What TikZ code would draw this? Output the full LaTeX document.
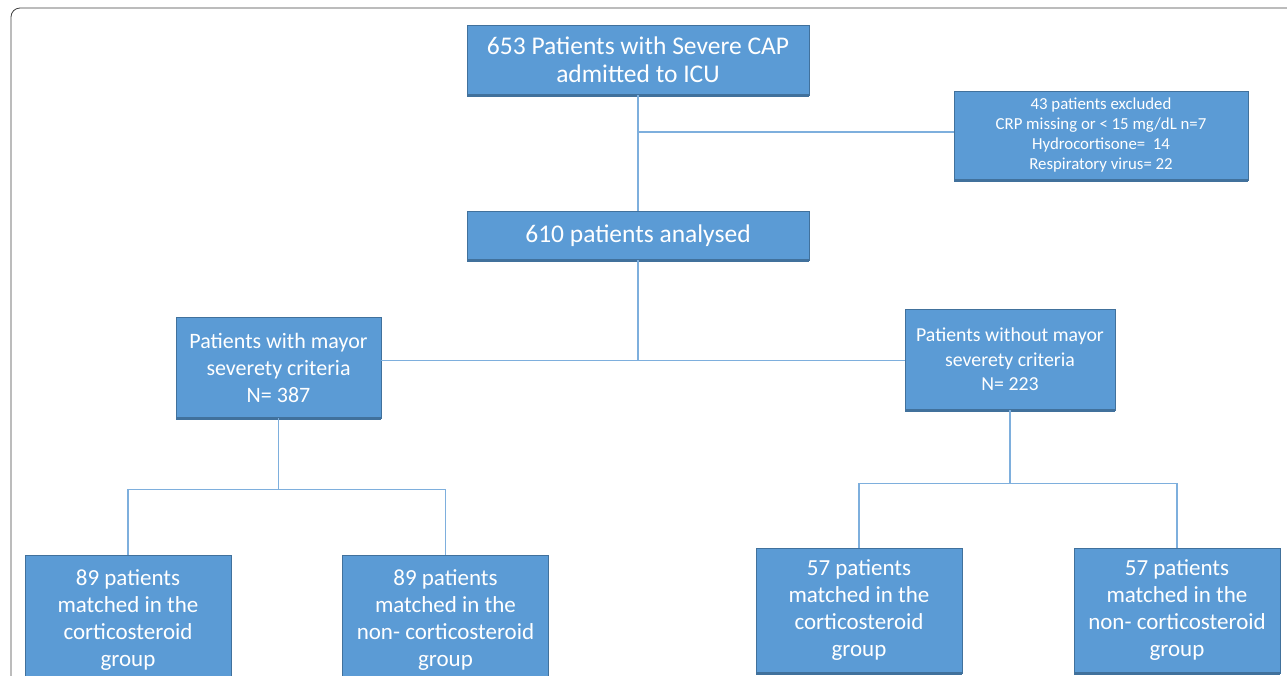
\documentclass[tikz,border=0pt]{standalone}
\usepackage{fontspec}
\setmainfont{Carlito}
\usetikzlibrary{positioning,calc}
\definecolor{boxblue}{HTML}{5B9BD5}
\definecolor{boxedge}{HTML}{41719C}
\definecolor{linkblue}{HTML}{7EAFDD}
\tikzset{
  flowbox/.style={draw=boxedge, line width=0.8pt, fill=boxblue, text=white, align=center, inner sep=2pt},
  link/.style={draw=linkblue, line width=1.3pt},
  strip/.style={draw=boxedge, line width=2.5pt}
}
\begin{document}
\begin{tikzpicture}[x=1pt,y=-1pt]
\useasboundingbox (0,0) rectangle (1287,675);
\clip (0,0) rectangle (1287,675);
% outer frame
\draw[black!75, line width=0.8pt, rounded corners=9pt] (11,8) rectangle (1310,700);
% main boxes
\node[flowbox, minimum width=342pt, minimum height=70pt, font=\fontsize{25.5}{28}\selectfont] (admit) at (638,60) {653 Patients with Severe CAP\\admitted to ICU};
\node[flowbox, minimum width=294pt, minimum height=89pt, font=\fontsize{16.8}{20}\selectfont] (excl) at (1101,135.5) {43 patients excluded\\CRP missing or < 15 mg/dL n=7\\Hydrocortisone=\ \ 14\\Respiratory virus= 22};
\node[flowbox, minimum width=342pt, minimum height=49pt, font=\fontsize{25.5}{28}\selectfont] (anal) at (638,235.5) {610 patients analysed};
% severity groups
\node[flowbox, minimum width=205pt, minimum height=101pt, font=\fontsize{22}{27}\selectfont] (major) at (278.5,367.5) {Patients with\ mayor\\severety\ criteria\\N= 387};
\node[flowbox, minimum width=210pt, minimum height=101pt, font=\fontsize{19.8}{24.5}\selectfont] (minor) at (1010,359.5) {Patients without mayor\\severety criteria\\N= 223};
% matched groups
\node[flowbox, minimum width=206pt, minimum height=130pt, font=\fontsize{23}{27}\selectfont] (majcs) at (128,620) {89 patients\\matched in the\\corticosteroid\\group};
\node[flowbox, minimum width=206pt, minimum height=130pt, font=\fontsize{23}{27}\selectfont] (majnc) at (445.5,620) {89 patients\\matched in the\\non- corticosteroid\\group};
\node[flowbox, minimum width=206pt, minimum height=125pt, font=\fontsize{23}{27}\selectfont] (mincs) at (859,610.5) {57 patients\\matched in the\\corticosteroid\\group};
\node[flowbox, minimum width=206pt, minimum height=125pt, font=\fontsize{23}{27}\selectfont] (minnc) at (1177,610.5) {57 patients\\matched in the\\non- corticosteroid\\group};
% darker bottom edge
\foreach \n in {admit,excl,anal,major,minor,mincs,minnc} {
  \draw[strip] ([xshift=0.4pt]\n.south west) -- ([xshift=-0.4pt]\n.south east);
}
% connectors
\draw[link] (admit.south) -- (anal.north);
\draw[link] (excl.west |- 0,132) -- (admit.south |- 0,132);
\draw[link] (anal.south) -- ++(0,100) coordinate (split);
\draw[link] (split -| major.east) -- (split -| minor.west);
\draw[link] (major.south) -- ++(0,71) coordinate (majsplit);
\draw[link] (majsplit -| majcs.north) -- (majsplit -| majnc.north);
\draw[link] (majsplit -| majcs.north) -- (majcs.north);
\draw[link] (majsplit -| majnc.north) -- (majnc.north);
\draw[link] (minor.south) -- ++(0,73) coordinate (minsplit);
\draw[link] (minsplit -| mincs.north) -- (minsplit -| minnc.north);
\draw[link] (minsplit -| mincs.north) -- (mincs.north);
\draw[link] (minsplit -| minnc.north) -- (minnc.north);
\end{tikzpicture}
\end{document}
